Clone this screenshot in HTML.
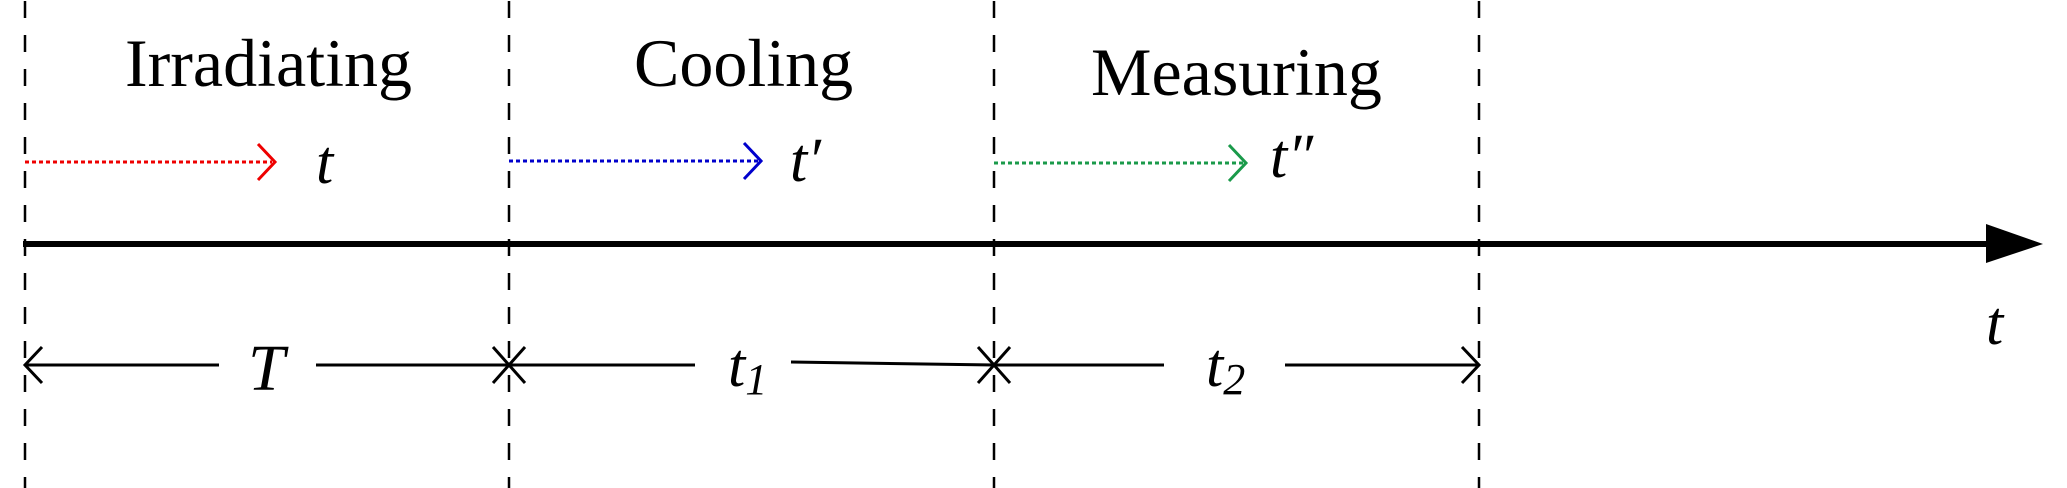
<!DOCTYPE html>
<html><head><meta charset="utf-8"><style>
html,body{margin:0;padding:0;background:#fff;}
svg{display:block;}
text{font-family:"Liberation Serif",serif;fill:#000;}
.it{font-style:italic;}
</style></head><body>
<svg width="2067" height="488" viewBox="0 0 2067 488" xmlns="http://www.w3.org/2000/svg">
<g stroke="#000" stroke-width="2.5" stroke-dasharray="17 17" stroke-dashoffset="-1">
<line x1="25" y1="0" x2="25" y2="488"/>
<line x1="509" y1="0" x2="509" y2="488"/>
<line x1="994" y1="0" x2="994" y2="488"/>
<line x1="1479" y1="0" x2="1479" y2="488"/>
</g>
<text x="125" y="86" font-size="68">Irradiating</text>
<text x="634" y="86" font-size="68">Cooling</text>
<text x="1091" y="95" font-size="68">Measuring</text>
<g stroke-width="3" fill="none">
<line x1="25" y1="162" x2="272" y2="162" stroke="#e00" stroke-dasharray="4 3"/>
<polyline points="258,144 275,162 258,180" stroke="#e00"/>
<line x1="509" y1="161" x2="758" y2="161" stroke="#00c" stroke-dasharray="4 3"/>
<polyline points="744,143 761,161 744,179" stroke="#00c"/>
<line x1="994" y1="163" x2="1243" y2="163" stroke="#1a9a4a" stroke-dasharray="4 3"/>
<polyline points="1229,145 1246,163 1229,181" stroke="#1a9a4a"/>
</g>
<text x="316" y="183" font-size="62" class="it">t</text>
<text x="790" y="181" font-size="62" class="it">t′</text>
<text x="1270" y="177" font-size="62" class="it">t″</text>
<line x1="23" y1="244" x2="1990" y2="244" stroke="#000" stroke-width="6"/>
<polygon points="1986,224 2043,244 1986,263" fill="#000"/>
<text x="1986" y="344" font-size="62" class="it">t</text>
<g stroke="#000" stroke-width="3" fill="none">
<line x1="25" y1="365" x2="219" y2="365"/>
<line x1="316" y1="365" x2="695" y2="365"/>
<line x1="791" y1="362" x2="994" y2="365"/>
<line x1="994" y1="365" x2="1164" y2="365"/>
<line x1="1285" y1="365" x2="1479" y2="365"/>
<polyline points="42,347 25,365 42,383"/>
<polyline points="1462,347 1479,365 1462,383"/>
<line x1="493" y1="347" x2="525" y2="383"/>
<line x1="525" y1="347" x2="493" y2="383"/>
<line x1="978" y1="347" x2="1010" y2="383"/>
<line x1="1010" y1="347" x2="978" y2="383"/>
</g>
<text x="248" y="390" font-size="66" class="it">T</text>
<text x="728" y="386" font-size="62" class="it">t<tspan font-size="44" dy="8">1</tspan></text>
<text x="1206" y="386" font-size="62" class="it">t<tspan font-size="44" dy="8">2</tspan></text>
</svg>
</body></html>
